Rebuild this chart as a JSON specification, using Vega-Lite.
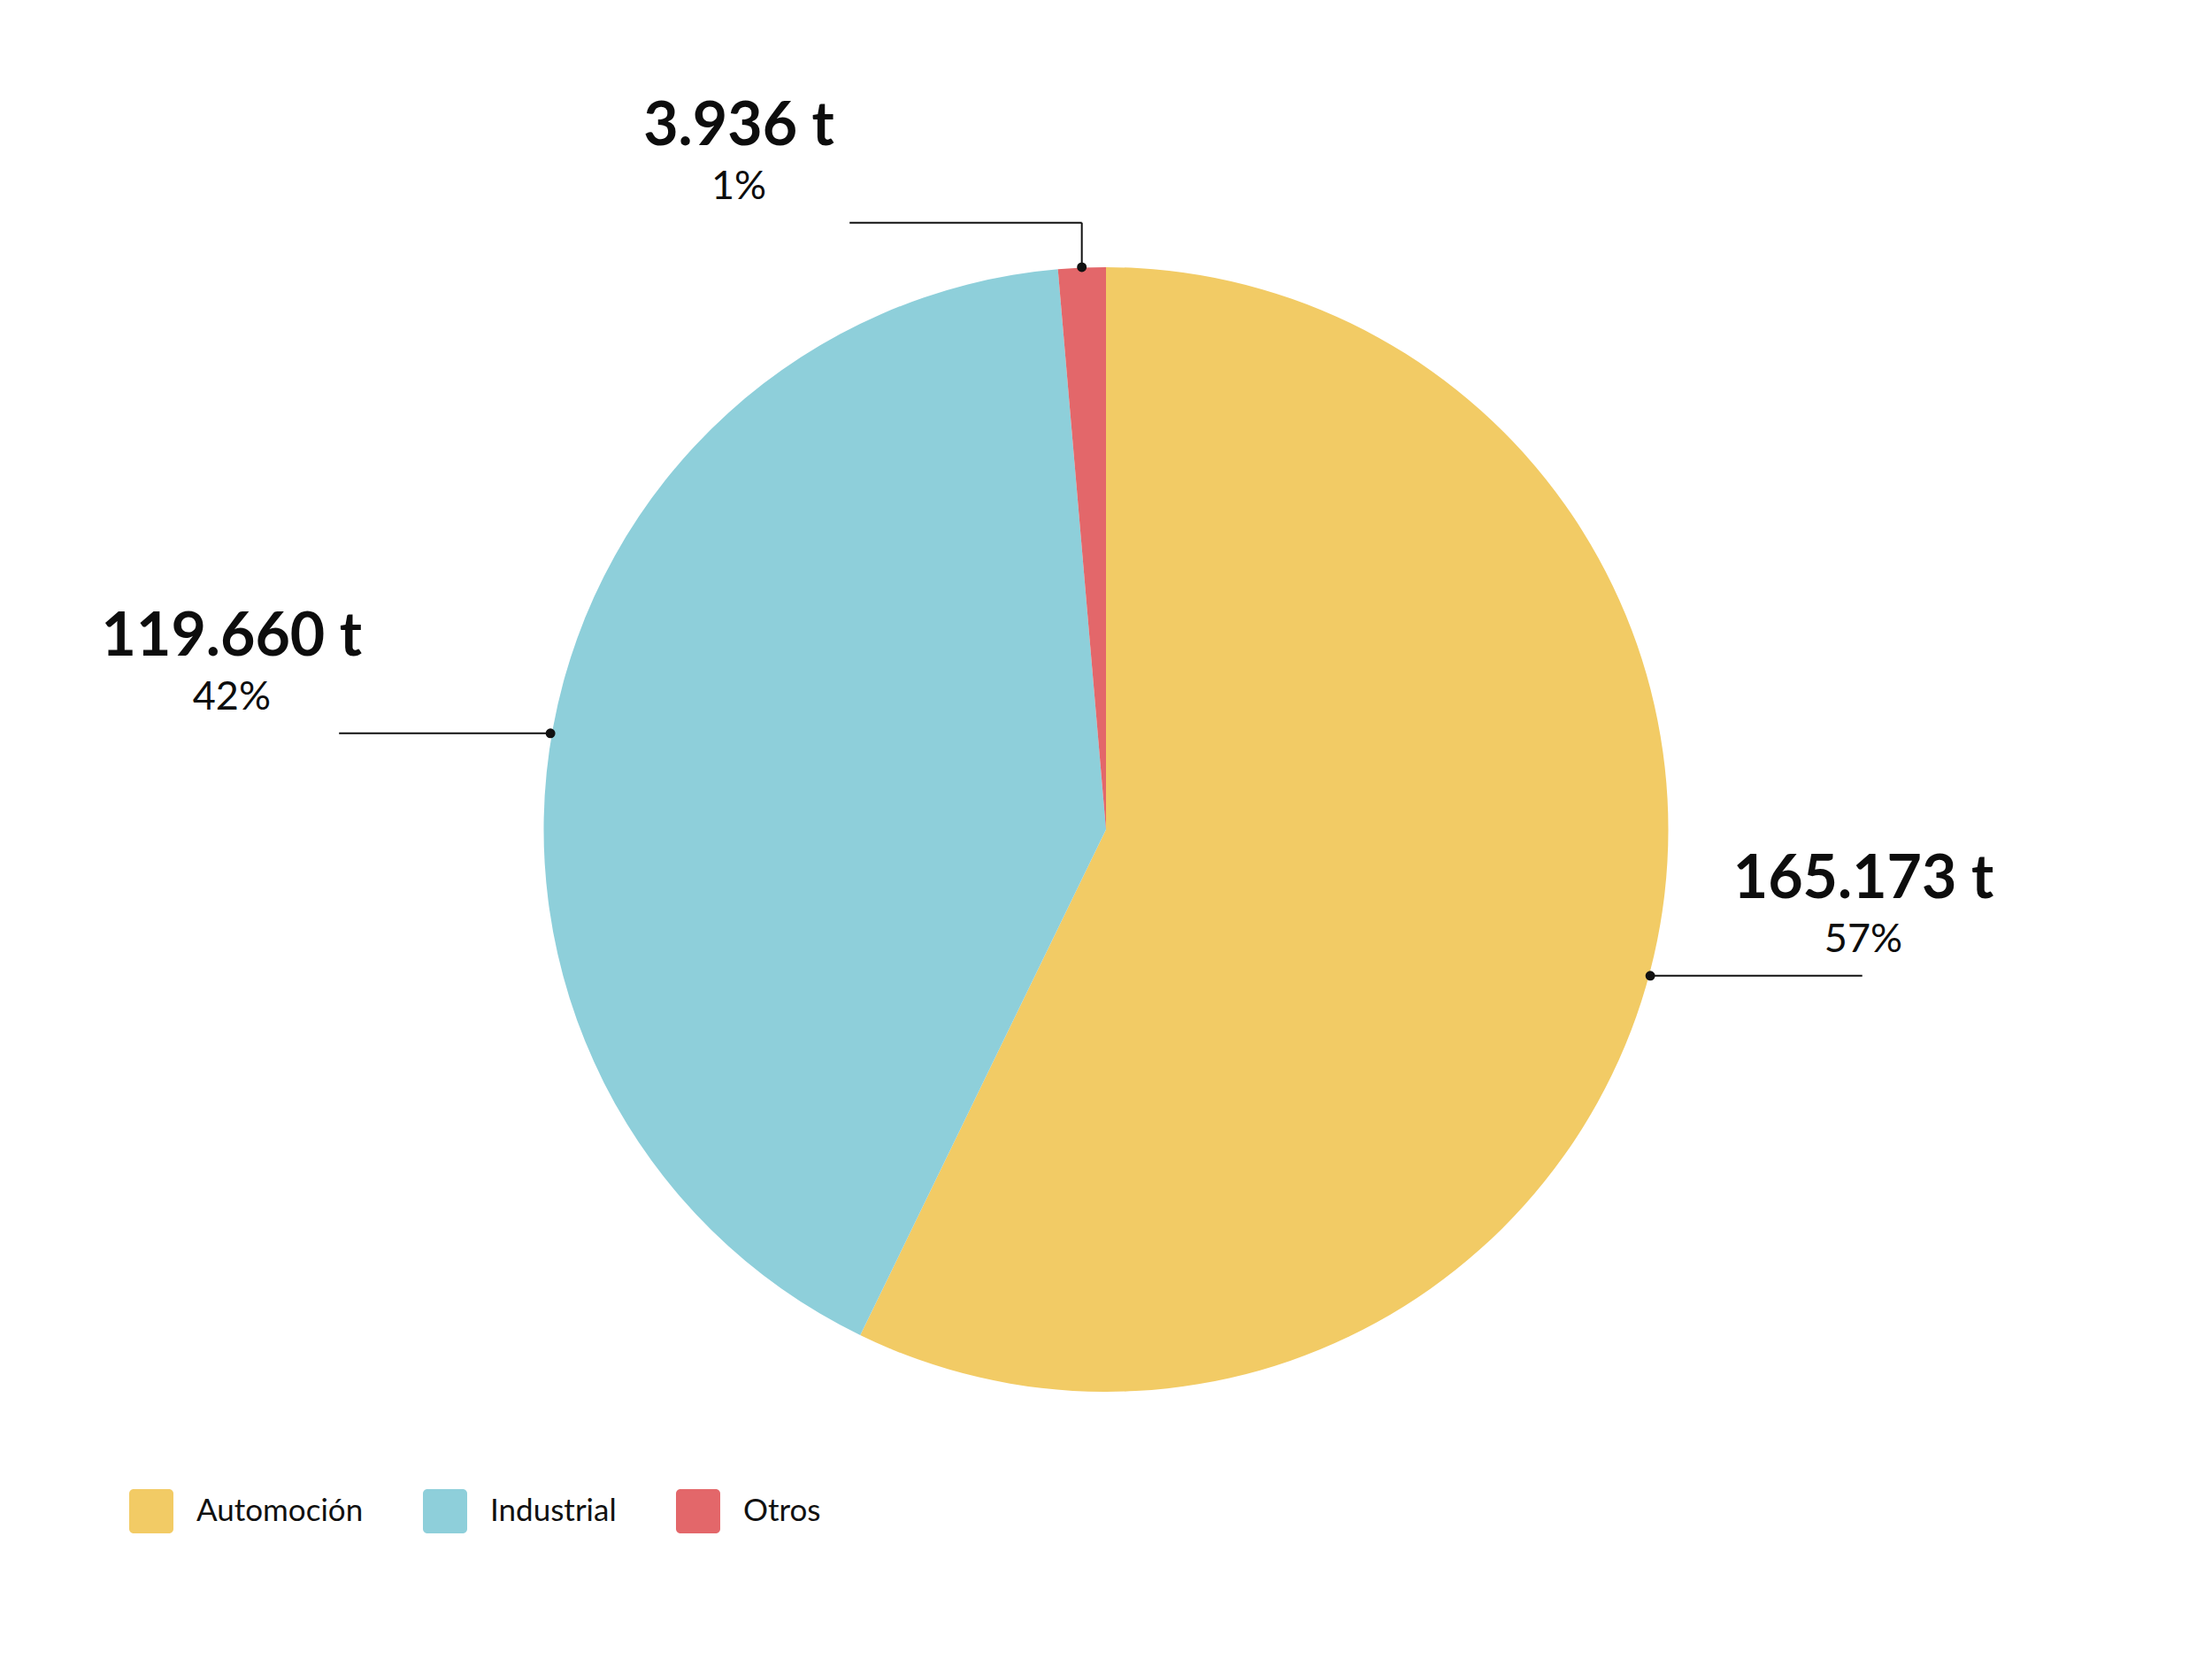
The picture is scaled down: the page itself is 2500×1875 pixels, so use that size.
{
  "$schema": "https://vega.github.io/schema/vega-lite/v6.json",
  "width": 2500,
  "height": 1875,
  "autosize": {"type": "none"},
  "padding": 0,
  "background": "white",
  "config": {"view": {"stroke": null}, "font": "Lato"},
  "datasets": {
    "slices": [
      {"sector": "Automoción", "toneladas": 165173, "orden": 1},
      {"sector": "Industrial", "toneladas": 119660, "orden": 2},
      {"sector": "Otros", "toneladas": 3936, "orden": 3}
    ],
    "leaders": [
      {"x": 0.968, "y": -0.26, "x2": 1.345, "y2": -0.26},
      {"x": -1.364, "y": 0.171, "x2": -0.988, "y2": 0.171},
      {"x": -0.456, "y": 1.079, "x2": -0.043, "y2": 1.079},
      {"x": -0.043, "y": 1.079, "x2": -0.043, "y2": 1.0}
    ],
    "dots": [
      {"x": 0.968, "y": -0.26},
      {"x": -0.988, "y": 0.171},
      {"x": -0.043, "y": 1.0}
    ],
    "labels": [
      {"x": 1.347, "y": -0.122, "y_pct": -0.218, "valor": "165.173 t", "pct": "57%"},
      {"x": -1.555, "y": 0.309, "y_pct": 0.213, "valor": "119.660 t", "pct": "42%"},
      {"x": -0.653, "y": 1.217, "y_pct": 1.121, "valor": "3.936 t", "pct": "1%"}
    ]
  },
  "layer": [
    {
      "data": {"name": "slices"},
      "mark": {"type": "arc", "outerRadius": 635.5, "stroke": null},
      "encoding": {
        "theta": {"field": "toneladas", "type": "quantitative", "stack": true},
        "order": {"field": "orden", "type": "quantitative"},
        "color": {
          "field": "sector",
          "type": "nominal",
          "scale": {
            "domain": ["Automoción", "Industrial", "Otros"],
            "range": ["#F2CB65", "#8ECFDA", "#E3676A"]
          },
          "legend": {
            "title": null,
            "orient": "none",
            "legendX": 146,
            "legendY": 1683,
            "direction": "horizontal",
            "padding": 0,
            "symbolType": "M-0.8,-1H0.8A0.2,0.2 0 0 1 1,-0.8V0.8A0.2,0.2 0 0 1 0.8,1H-0.8A0.2,0.2 0 0 1 -1,0.8V-0.8A0.2,0.2 0 0 1 -0.8,-1Z",
            "symbolSize": 2500,
            "symbolStrokeWidth": 0,
            "symbolOpacity": 1,
            "labelFont": "Lato",
            "labelFontSize": 35,
            "labelColor": "#111111",
            "labelOffset": 26,
            "columnPadding": 67,
            "labelLimit": 500
          }
        }
      }
    },
    {
      "data": {"name": "leaders"},
      "mark": {"type": "rule", "color": "#111111", "strokeWidth": 2},
      "encoding": {
        "x": {"field": "x", "type": "quantitative", "scale": {"domain": [-1.967, 1.967], "nice": false, "zero": false}, "axis": null},
        "y": {"field": "y", "type": "quantitative", "scale": {"domain": [-1.475, 1.475], "nice": false, "zero": false}, "axis": null},
        "x2": {"field": "x2"},
        "y2": {"field": "y2"}
      }
    },
    {
      "data": {"name": "dots"},
      "mark": {"type": "point", "filled": true, "shape": "circle", "size": 120, "color": "#111111", "opacity": 1},
      "encoding": {
        "x": {"field": "x", "type": "quantitative"},
        "y": {"field": "y", "type": "quantitative"}
      }
    },
    {
      "data": {"name": "labels"},
      "mark": {"type": "text", "font": "Lato", "fontWeight": "bold", "fontSize": 68, "align": "center", "baseline": "alphabetic", "color": "#0d0d0d"},
      "encoding": {
        "x": {"field": "x", "type": "quantitative"},
        "y": {"field": "y", "type": "quantitative"},
        "text": {"field": "valor", "type": "nominal"}
      }
    },
    {
      "data": {"name": "labels"},
      "mark": {"type": "text", "font": "Lato", "fontSize": 45, "align": "center", "baseline": "alphabetic", "color": "#0d0d0d"},
      "encoding": {
        "x": {"field": "x", "type": "quantitative"},
        "y": {"field": "y_pct", "type": "quantitative"},
        "text": {"field": "pct", "type": "nominal"}
      }
    }
  ]
}
